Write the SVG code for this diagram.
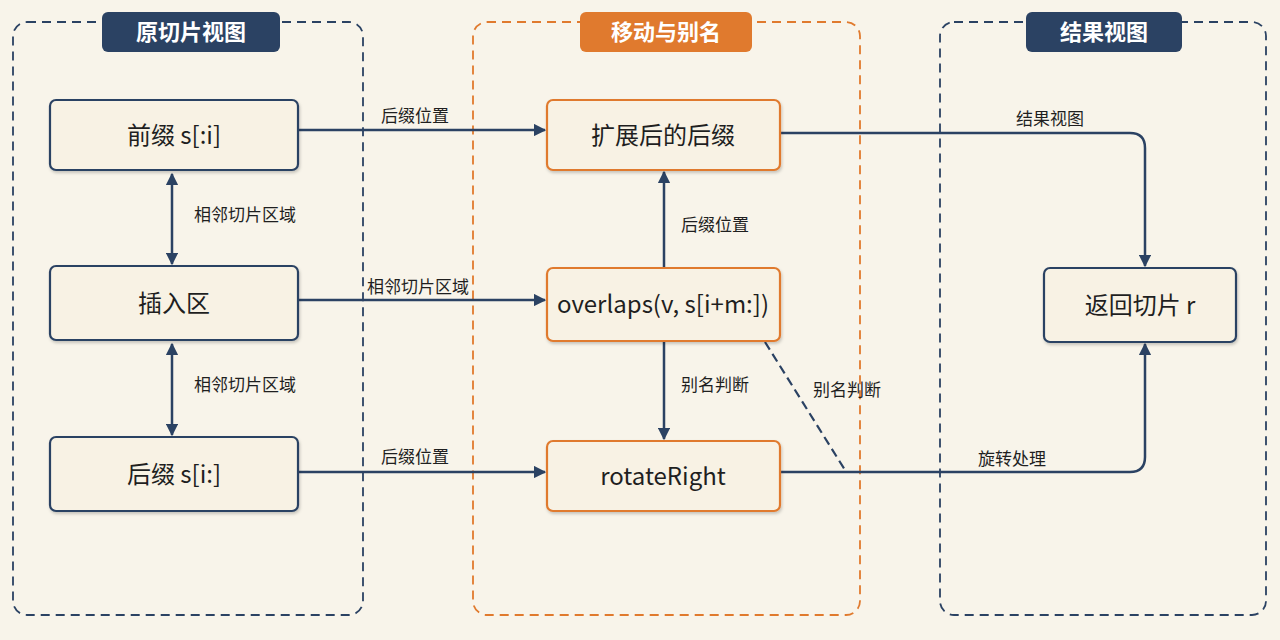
<svg xmlns="http://www.w3.org/2000/svg" width="1280" height="640" viewBox="0 0 1280 640">
<style>
text{font-family:"Noto Sans CJK SC","Noto Sans",sans-serif;fill:#1f1f1f}
.node{fill:#f8f2e4;stroke-width:2.2}
.n rect{stroke:#2b4263}
.o rect{stroke:#e07a2e}
.nt{font-size:24px;text-anchor:middle}
.lbl{font-size:17px;text-anchor:middle}
.c{fill:none;stroke:#2b4263;stroke-width:2.5}
.tt{font-size:22px;font-weight:bold;fill:#fff;text-anchor:middle}
</style>
<defs>
<marker id="a" viewBox="0 0 10 10" refX="9" refY="5" markerWidth="5" markerHeight="5" orient="auto-start-reverse"><path d="M0,0L10,5L0,10z" fill="#2b4263"/></marker>
<filter id="sh" x="-10%" y="-10%" width="120%" height="130%"><feDropShadow dx="1" dy="2" stdDeviation="1.5" flood-opacity="0.2"/></filter>
</defs>
<rect width="1280" height="640" fill="#f8f4ea"/>
<g id="panels">
<rect x="13" y="22" width="350" height="593" rx="14" fill="none" stroke="#2b4263" stroke-width="1.8" stroke-dasharray="9,6"/>
<rect x="473" y="22" width="387" height="593" rx="14" fill="none" stroke="#e07a2e" stroke-width="1.8" stroke-dasharray="9,6"/>
<rect x="940" y="22" width="326" height="593" rx="14" fill="none" stroke="#2b4263" stroke-width="1.8" stroke-dasharray="9,6"/>
<rect x="102" y="12" width="178" height="40" rx="6" fill="#2b4263"/><text class="tt" x="191" y="40">原切片视图</text>
<rect x="580" y="12" width="172" height="40" rx="6" fill="#e07a2e"/><text class="tt" x="666" y="40">移动与别名</text>
<rect x="1026" y="12" width="156" height="40" rx="6" fill="#2b4263"/><text class="tt" x="1104" y="40">结果视图</text>
</g>
<g id="connectors">
<path class="c" d="M298,130H545" marker-end="url(#a)"/><text class="lbl" x="415" y="122">后缀位置</text>
<path class="c" d="M298,300H545" marker-end="url(#a)"/><text class="lbl" x="418" y="293">相邻切片区域</text>
<path class="c" d="M298,472H545" marker-end="url(#a)"/><text class="lbl" x="415" y="463">后缀位置</text>
<path class="c" d="M172,174V264" marker-start="url(#a)" marker-end="url(#a)"/><text class="lbl" x="245" y="221">相邻切片区域</text>
<path class="c" d="M172,344V435" marker-start="url(#a)" marker-end="url(#a)"/><text class="lbl" x="245" y="391">相邻切片区域</text>
<path class="c" d="M664,268V172" marker-end="url(#a)"/><text class="lbl" x="715" y="231">后缀位置</text>
<path class="c" d="M664,341V439" marker-end="url(#a)"/><text class="lbl" x="715" y="391">别名判断</text>
<path class="c" d="M780,133H1130Q1145,133 1145,148V266" marker-end="url(#a)"/><text class="lbl" x="1050" y="125">结果视图</text>
<path class="c" d="M780,472H1130Q1145,472 1145,457V344" marker-end="url(#a)"/><text class="lbl" x="1012" y="465">旋转处理</text>
<path d="M765,342L845,470" fill="none" stroke="#2b4263" stroke-width="2.2" stroke-dasharray="9,5"/><text class="lbl" x="847" y="396">别名判断</text>
</g>
<g id="n1" class="n"><rect class="node" filter="url(#sh)" x="50" y="100" width="248" height="70" rx="6"/><text class="nt" x="174" y="144">前缀 s[:i]</text></g>
<g id="n2" class="n"><rect class="node" filter="url(#sh)" x="50" y="266" width="248" height="74" rx="6"/><text class="nt" x="174" y="312">插入区</text></g>
<g id="n3" class="n"><rect class="node" filter="url(#sh)" x="50" y="437" width="248" height="74" rx="6"/><text class="nt" x="174" y="483">后缀 s[i:]</text></g>
<g id="m1" class="o"><rect class="node" filter="url(#sh)" x="547" y="100" width="233" height="70" rx="6"/><text class="nt" x="663" y="144">扩展后的后缀</text></g>
<g id="m2" class="o"><rect class="node" filter="url(#sh)" x="547" y="268" width="233" height="73" rx="6"/><text class="nt" x="663" y="313">overlaps(v, s[i+m:])</text></g>
<g id="m3" class="o"><rect class="node" filter="url(#sh)" x="547" y="441" width="233" height="70" rx="6"/><text class="nt" x="663" y="485">rotateRight</text></g>
<g id="r1" class="n"><rect class="node" filter="url(#sh)" x="1044" y="268" width="192" height="74" rx="6"/><text class="nt" x="1140" y="314">返回切片 r</text></g>
</svg>
